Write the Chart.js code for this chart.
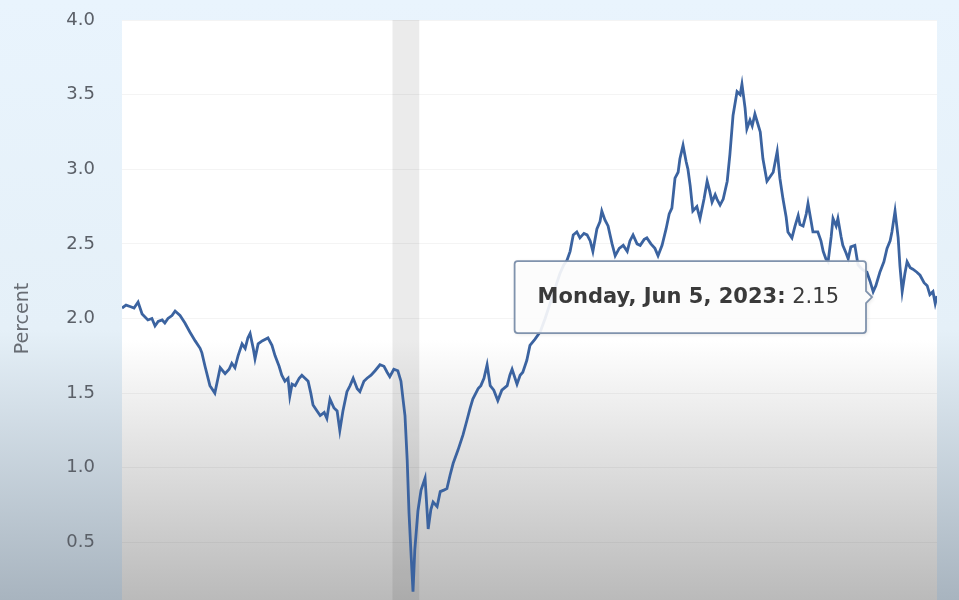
<!DOCTYPE html>
<html>
<head>
<meta charset="utf-8">
<title>5-Year Breakeven Inflation Rate</title>
<script src="https://cdn.jsdelivr.net/npm/chart.js@4.4.1/dist/chart.umd.min.js"></script>
<style>
  html, body {
    margin: 0;
    padding: 0;
    width: 959px;
    height: 600px;
    overflow: hidden;
    background: linear-gradient(to bottom, #e9f4fd 0px, #e5f0f8 330px, #a8b4bf 600px);
  }
  #breakevenChart { display: block; }
</style>
</head>
<body>
<canvas id="breakevenChart" width="959" height="640"></canvas>
<script>
const dates = [
  '2018-06-05','2018-06-14','2018-06-23','2018-07-02','2018-07-11','2018-07-20','2018-08-02','2018-08-11','2018-08-18','2018-08-25',
  '2018-09-03','2018-09-09','2018-09-16','2018-09-25','2018-10-02','2018-10-13','2018-10-24','2018-11-04','2018-11-16','2018-11-27',
  '2018-12-01','2018-12-08','2018-12-19','2018-12-30','2019-01-06','2019-01-11','2019-01-22','2019-01-31','2019-02-06','2019-02-13',
  '2019-02-20','2019-03-01','2019-03-08','2019-03-14','2019-03-19','2019-03-26','2019-03-30','2019-04-06','2019-04-15','2019-04-28',
  '2019-05-07','2019-05-14','2019-05-23','2019-05-29','2019-06-05','2019-06-12','2019-06-16','2019-06-21','2019-06-28','2019-07-07',
  '2019-07-13','2019-07-20','2019-07-27','2019-08-02','2019-08-07','2019-08-16','2019-08-23','2019-09-01','2019-09-07','2019-09-14',
  '2019-09-23','2019-09-30','2019-10-06','2019-10-13','2019-10-22','2019-10-29','2019-11-05','2019-11-14','2019-11-20','2019-11-29',
  '2019-12-06','2019-12-15','2019-12-24','2020-01-04','2020-01-13','2020-01-20','2020-01-26','2020-02-04','2020-02-13','2020-02-20',
  '2020-02-25','2020-02-29','2020-03-05','2020-03-09','2020-03-14','2020-03-18','2020-03-22','2020-03-29','2020-04-05','2020-04-14',
  '2020-04-21','2020-04-27','2020-05-02','2020-05-11','2020-05-18','2020-05-26','2020-06-02','2020-06-09','2020-06-16','2020-06-27',
  '2020-07-08','2020-07-17','2020-07-24','2020-07-30','2020-08-11','2020-08-17','2020-08-24','2020-08-31','2020-09-07','2020-09-15',
  '2020-09-24','2020-10-03','2020-10-15','2020-10-21','2020-10-26','2020-11-06','2020-11-13','2020-11-19','2020-11-28','2020-12-05',
  '2020-12-16','2020-12-28','2021-01-08','2021-01-19','2021-01-30','2021-02-10','2021-02-19','2021-02-26','2021-03-05','2021-03-12',
  '2021-03-20','2021-03-27','2021-04-05','2021-04-12','2021-04-19','2021-04-25','2021-05-04','2021-05-11','2021-05-15','2021-05-22',
  '2021-05-29','2021-06-07','2021-06-14','2021-06-23','2021-07-02','2021-07-11','2021-07-17','2021-07-24','2021-08-02','2021-08-09',
  '2021-08-18','2021-08-24','2021-09-02','2021-09-11','2021-09-18','2021-09-27','2021-10-06','2021-10-13','2021-10-19','2021-10-26',
  '2021-11-02','2021-11-06','2021-11-13','2021-11-20','2021-11-24','2021-11-29','2021-12-05','2021-12-14','2021-12-21','2021-12-30',
  '2022-01-06','2022-01-12','2022-01-17','2022-01-24','2022-01-28','2022-02-04','2022-02-11','2022-02-20','2022-02-26','2022-03-05',
  '2022-03-14','2022-03-21','2022-03-25','2022-04-01','2022-04-05','2022-04-12','2022-04-17','2022-04-23','2022-04-30','2022-05-05',
  '2022-05-11','2022-05-20','2022-05-27','2022-06-03','2022-06-12','2022-06-18','2022-06-25','2022-07-02','2022-07-06','2022-07-15',
  '2022-07-22','2022-07-29','2022-08-02','2022-08-09','2022-08-16','2022-08-20','2022-08-27','2022-08-31','2022-09-11','2022-09-18',
  '2022-09-23','2022-09-29','2022-10-04','2022-10-11','2022-10-15','2022-10-22','2022-10-26','2022-11-02','2022-11-06','2022-11-13',
  '2022-11-18','2022-11-24','2022-12-03','2022-12-10','2022-12-19','2022-12-30','2023-01-06','2023-01-13','2023-01-19','2023-01-28',
  '2023-02-06','2023-02-13','2023-02-20','2023-02-24','2023-03-03','2023-03-10','2023-03-14','2023-03-19','2023-03-25','2023-03-30',
  '2023-04-06','2023-04-12','2023-04-21','2023-04-28','2023-05-07','2023-05-14','2023-05-20','2023-05-27','2023-06-01','2023-06-05'
];
const values = [
  2.07,2.09,2.08,2.07,2.11,2.03,1.99,2.00,1.95,1.98,
  1.99,1.97,2.00,2.02,2.05,2.02,1.97,1.91,1.85,1.80,
  1.77,1.68,1.55,1.50,1.60,1.67,1.63,1.66,1.70,1.67,
  1.75,1.83,1.80,1.87,1.90,1.80,1.73,1.83,1.85,1.87,
  1.82,1.75,1.68,1.62,1.58,1.60,1.48,1.56,1.55,1.60,
  1.62,1.60,1.58,1.50,1.42,1.38,1.35,1.37,1.33,1.46,
  1.40,1.38,1.25,1.38,1.51,1.55,1.60,1.53,1.51,1.58,
  1.60,1.62,1.65,1.69,1.68,1.64,1.61,1.66,1.65,1.58,
  1.45,1.35,1.05,0.70,0.40,0.17,0.45,0.71,0.85,0.93,
  0.59,0.72,0.77,0.74,0.84,0.85,0.86,0.95,1.03,1.12,
  1.22,1.32,1.40,1.46,1.53,1.55,1.60,1.69,1.55,1.52,
  1.45,1.52,1.55,1.62,1.66,1.56,1.62,1.64,1.72,1.82,
  1.86,1.91,2.00,2.10,2.20,2.30,2.36,2.39,2.45,2.56,
  2.58,2.54,2.57,2.56,2.52,2.45,2.60,2.65,2.72,2.66,
  2.62,2.50,2.42,2.47,2.49,2.45,2.52,2.56,2.50,2.49,
  2.53,2.54,2.50,2.47,2.42,2.49,2.60,2.70,2.74,2.94,
  2.98,3.07,3.16,3.05,3.00,2.89,2.72,2.75,2.67,2.80,
  2.92,2.85,2.78,2.83,2.80,2.76,2.80,2.92,3.10,3.36,
  3.52,3.50,3.57,3.41,3.27,3.33,3.29,3.37,3.30,3.25,
  3.07,2.92,2.95,2.98,3.12,2.94,2.80,2.68,2.58,2.54,
  2.62,2.69,2.63,2.62,2.70,2.77,2.65,2.58,2.58,2.52,
  2.45,2.40,2.38,2.55,2.67,2.62,2.67,2.55,2.49,2.44,
  2.40,2.48,2.49,2.36,2.33,2.31,2.25,2.18,2.22,2.31,
  2.38,2.47,2.52,2.58,2.72,2.54,2.35,2.18,2.30,2.38,
  2.34,2.33,2.31,2.29,2.24,2.22,2.16,2.18,2.10,2.15
];
const yTicks = [0.0, 0.5, 1.0, 1.5, 2.0, 2.5, 3.0, 3.5, 4.0];
const recession = ['2020-02-01', '2020-04-01'];
const yTitle = 'Percent';

const lineColor = '#3b63a0';
const fontFamily = '"DejaVu Sans", Verdana, sans-serif';

// ---- plot background: white fading to grey (bottom of the frame) ----
const plotBackground = {
  id: 'plotBackground',
  beforeDraw(chart) {
    const { ctx, chartArea: a } = chart;
    const g = ctx.createLinearGradient(0, 340, 0, 600);
    g.addColorStop(0, '#ffffff');
    g.addColorStop(1, '#bababa');
    ctx.save();
    ctx.fillStyle = g;
    ctx.fillRect(a.left, a.top, a.right - a.left, a.bottom - a.top);
    ctx.restore();
  }
};

// ---- recession shading ----
const recessionBand = {
  id: 'recessionBand',
  beforeDatasetsDraw(chart) {
    const { ctx, chartArea: a, scales } = chart;
    const x0 = scales.x.getPixelForValue(Date.parse(recession[0]));
    const x1 = scales.x.getPixelForValue(Date.parse(recession[1]));
    ctx.save();
    ctx.fillStyle = 'rgba(0,0,0,0.08)';
    ctx.fillRect(x0, a.top, x1 - x0, a.bottom - a.top);
    ctx.restore();
  }
};

// ---- hover box for the last observation ----
const lastPointBox = {
  id: 'lastPointBox',
  afterDraw(chart) {
    const { ctx } = chart;
    const meta = chart.getDatasetMeta(0);
    const i = values.length - 1;
    const pt = meta.data[i];
    const d = new Date(Date.parse(dates[i]));
    const dateTxt = d.toLocaleDateString('en-US', {
      weekday: 'long', month: 'short', day: 'numeric', year: 'numeric', timeZone: 'UTC'
    }) + ':';
    const valTxt = ' ' + values[i].toFixed(2);

    ctx.save();
    const boldFont = 'bold 21px ' + fontFamily;
    const normFont = '21px ' + fontFamily;
    ctx.font = boldFont;
    const w1 = ctx.measureText(dateTxt).width;
    ctx.font = normFont;
    const w2 = ctx.measureText(valTxt).width;

    const right = pt.x - 71;
    const w = w1 + w2 + 50;
    const h = 72;
    const left = right - w;
    const cy = pt.y + 1;
    const top = cy - h / 2;
    const r = 3;

    ctx.beginPath();
    ctx.moveTo(left + r, top);
    ctx.lineTo(right - r, top);
    ctx.quadraticCurveTo(right, top, right, top + r);
    ctx.lineTo(right, cy - 6);
    ctx.lineTo(right + 6, cy);
    ctx.lineTo(right, cy + 6);
    ctx.lineTo(right, top + h - r);
    ctx.quadraticCurveTo(right, top + h, right - r, top + h);
    ctx.lineTo(left + r, top + h);
    ctx.quadraticCurveTo(left, top + h, left, top + h - r);
    ctx.lineTo(left, top + r);
    ctx.quadraticCurveTo(left, top, left + r, top);
    ctx.closePath();
    ctx.shadowColor = 'rgba(0,0,0,0.15)';
    ctx.shadowBlur = 4;
    ctx.shadowOffsetX = 1;
    ctx.shadowOffsetY = 1;
    ctx.fillStyle = 'rgba(255,255,255,0.9)';
    ctx.fill();
    ctx.shadowColor = 'transparent';
    ctx.strokeStyle = '#8093ad';
    ctx.lineWidth = 1.8;
    ctx.stroke();

    ctx.textBaseline = 'middle';
    ctx.fillStyle = '#3a3a3a';
    ctx.font = boldFont;
    ctx.fillText(dateTxt, left + 23, cy);
    ctx.font = normFont;
    ctx.fillText(valTxt, left + 23 + w1, cy);
    ctx.restore();
  }
};

const points = dates.map((d, i) => ({ x: Date.parse(d), y: values[i] }));

new Chart(document.getElementById('breakevenChart'), {
  type: 'line',
  data: {
    datasets: [{
      label: yTitle,
      data: points,
      borderColor: lineColor,
      borderWidth: 2.8,
      pointRadius: 0,
      tension: 0,
      fill: false
    }]
  },
  options: {
    responsive: false,
    animation: false,
    events: [],
    layout: { padding: { left: 0, right: 22, top: 20, bottom: 23 } },
    plugins: {
      legend: { display: false },
      tooltip: { enabled: false }
    },
    scales: {
      x: {
        type: 'linear',
        min: Date.parse(dates[0]),
        max: Date.parse(dates[dates.length - 1]),
        display: false
      },
      y: {
        min: yTicks[0],
        max: yTicks[yTicks.length - 1],
        afterBuildTicks(scale) {
          scale.ticks = yTicks.map(v => ({ value: v }));
        },
        afterFit(scale) {
          // keep the plot edges fixed, labels may overhang
          scale.width = 122;
          scale.paddingTop = 0;
          scale.paddingBottom = 0;
        },
        border: { display: false },
        grid: { color: 'rgba(0,0,0,0.045)', lineWidth: 1, drawTicks: false },
        ticks: {
          padding: 27,
          color: '#5b6068',
          font: { family: fontFamily, size: 18 },
          callback: v => v.toFixed(1)
        },
        title: {
          display: true,
          text: yTitle,
          color: '#676c73',
          padding: { top: 12, bottom: 0 },
          font: { family: fontFamily, size: 19 }
        }
      }
    }
  },
  plugins: [plotBackground, recessionBand, lastPointBox]
});
</script>
</body>
</html>
